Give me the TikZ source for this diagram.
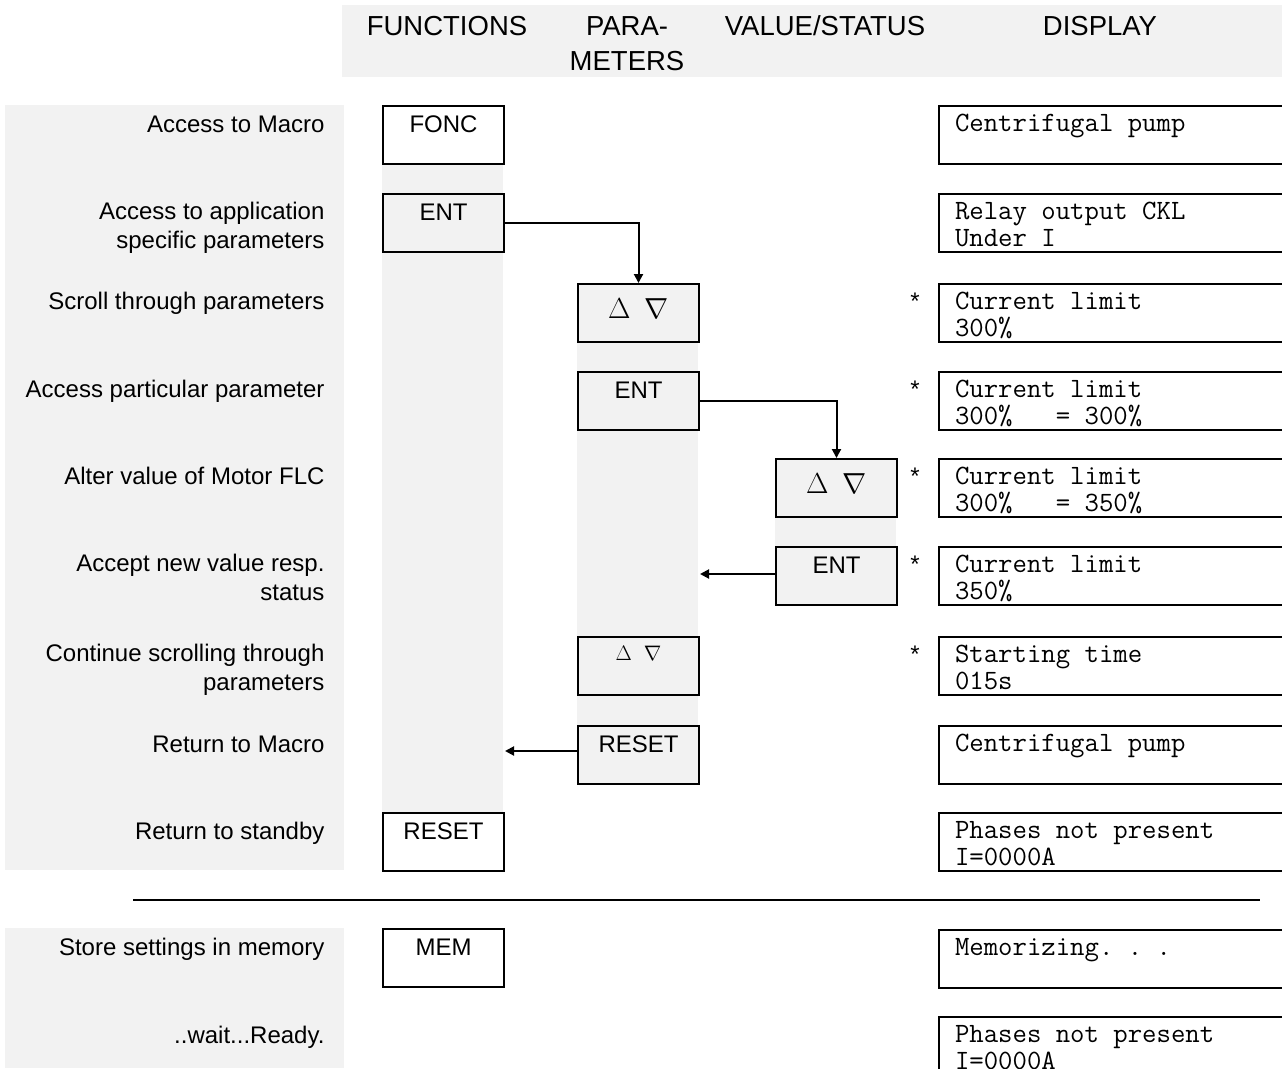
\RequirePackage{fix-cm}
\documentclass[tikz,border=0pt]{standalone}
\usepackage{fontspec}
\setmainfont{Liberation Sans}
\usetikzlibrary{arrows.meta}
\definecolor{panel}{HTML}{F2F2F2}
% typewriter face for the display read-outs: every character, spaces
% included, takes one 14.4pt cell
\newcommand\lcdsize{27.4}
\newcommand\lcdface{\ttfamily\fontsize{\lcdsize}{27}\selectfont\frenchspacing}
\newcommand\lcdspacing{\spaceskip=\fontcharwd\font`0\relax\xspaceskip=\spaceskip}

\begin{document}
\setbox0=\hbox{\ttfamily\fontsize{20}{24}\selectfont 0}%
\pgfmathsetmacro\lcdsize{20*14.4/\the\wd0}%
\begin{tikzpicture}[x=1pt,y=-1pt,
  font=\fontsize{24}{29}\selectfont,
  keybox/.style={draw, line width=2pt, anchor=north west, minimum width=121pt,
    inner xsep=0pt, inner ysep=0pt, text height=26.5pt, text depth=31.5pt},
  bigtri/.style={keybox, text height=34pt, text depth=24pt, font=\fontsize{29}{32}\selectfont},
  smalltri/.style={keybox, text height=23pt, text depth=35pt, font=\fontsize{21}{24}\selectfont},
  disp/.style={draw, line width=2pt, anchor=north west, inner xsep=16pt, inner ysep=0pt,
    text width=328pt, align=left, text height=25pt, text depth=33pt, font=\lcdface,
    execute at begin node=\lcdspacing},
  lbl/.style={anchor=base east, align=right},
  head/.style={anchor=base, align=center, font=\fontsize{27.5}{35}\selectfont},
  star/.style={anchor=base},
  conn/.style={line width=2pt, -{Triangle[length=9pt,width=9pt]}}]

\clip (0,0) rectangle (1282,1068);

% shaded panels
\fill[panel] (342,5) rectangle (1282,77);
\fill[panel] (5,105) rectangle (344,870);
\fill[panel] (5,928) rectangle (344,1068);
\fill[panel] (382,163) rectangle (503,812);
\fill[panel] (577,283) rectangle (698,783);
\fill[panel] (775,458) rectangle (896,605);

% column headings (multi-line nodes sit on their last baseline)
\node[head] (hfun) at (447,35) {FUNCTIONS};
\node[head] (hpar) at (627,70) {PARA-\\METERS};
\node[head] (hval) at (825,35) {VALUE/STATUS};
\node[head] (hdis) at (1100,35) {DISPLAY};

% step descriptions
\node[lbl] (l1) at (328,132) {Access to Macro};
\node[lbl] (l2) at (328,248) {Access to application\\specific parameters};
\node[lbl] (l3) at (328,309) {Scroll through parameters};
\node[lbl] (l4) at (328,397) {Access particular parameter};
\node[lbl] (l5) at (328,484) {Alter value of Motor FLC};
\node[lbl] (l6) at (328,600) {Accept new value resp.\\status};
\node[lbl] (l7) at (328,690) {Continue scrolling through\\parameters};
\node[lbl] (l8) at (328,752) {Return to Macro};
\node[lbl] (l9) at (328,839) {Return to standby};
\node[lbl] (l10) at (328,955) {Store settings in memory};
\node[lbl] (l11) at (328,1043) {..wait...Ready.};

% keys: functions column
\node[keybox] (ffonc) at (382,105) {FONC};
\node[keybox] (fent) at (382,193) {ENT};
\node[keybox] (freset) at (382,812) {RESET};
\node[keybox] (fmem) at (382,928) {MEM};

% keys: parameters column
\node[bigtri] (pud) at (577,283) {$\Delta$\hspace{14pt}$\nabla$};
\node[keybox] (pent) at (577,371) {ENT};
\node[smalltri] (pud2) at (577,636) {$\Delta$\hspace{12pt}$\nabla$};
\node[keybox] (preset) at (577,725) {RESET};

% keys: value/status column
\node[bigtri] (vud) at (775,458) {$\Delta$\hspace{14pt}$\nabla$};
\node[keybox] (vent) at (775,546) {ENT};

% display contents
\node[disp] (d1) at (938,105) {Centrifugal pump};
\node[disp] (d2) at (938,193) {Relay output CKL\\Under I};
\node[disp] (d3) at (938,283) {Current limit\\300\%};
\node[disp] (d4) at (938,371) {Current limit\\300\%\ \ \ = 300\%};
\node[disp] (d5) at (938,458) {Current limit\\300\%\ \ \ = 350\%};
\node[disp] (d6) at (938,546) {Current limit\\350\%};
\node[disp] (d7) at (938,636) {Starting time\\015s};
\node[disp] (d8) at (938,725) {Centrifugal pump};
\node[disp] (d9) at (938,812) {Phases not present\\I=0000A};
\node[disp] (d10) at (938,929) {Memorizing. . .};
\node[disp] (d11) at (938,1016) {Phases not present\\I=0000A};

% marks for changed parameters
\node[star] (s3) at (915,309) {*};
\node[star] (s4) at (915,397) {*};
\node[star] (s5) at (915,484) {*};
\node[star] (s6) at (915,572) {*};
\node[star] (s7) at (915,662) {*};

% flow between columns
\draw[conn] (fent.east) -| (pud.north);
\draw[conn] (pent.east) -| (vud.north);
\draw[conn] ([yshift=2pt]vent.west) -- ([yshift=2pt]vent.west -| pent.east);
\draw[conn] ([yshift=4pt]preset.west) -- ([yshift=4pt]preset.west -| fent.east);

% divider before the memory section
\coordinate (rulel) at (133,900);
\coordinate (ruler) at (1260,900);
\draw[line width=2.5pt] (rulel) -- (ruler);
\end{tikzpicture}
\end{document}
